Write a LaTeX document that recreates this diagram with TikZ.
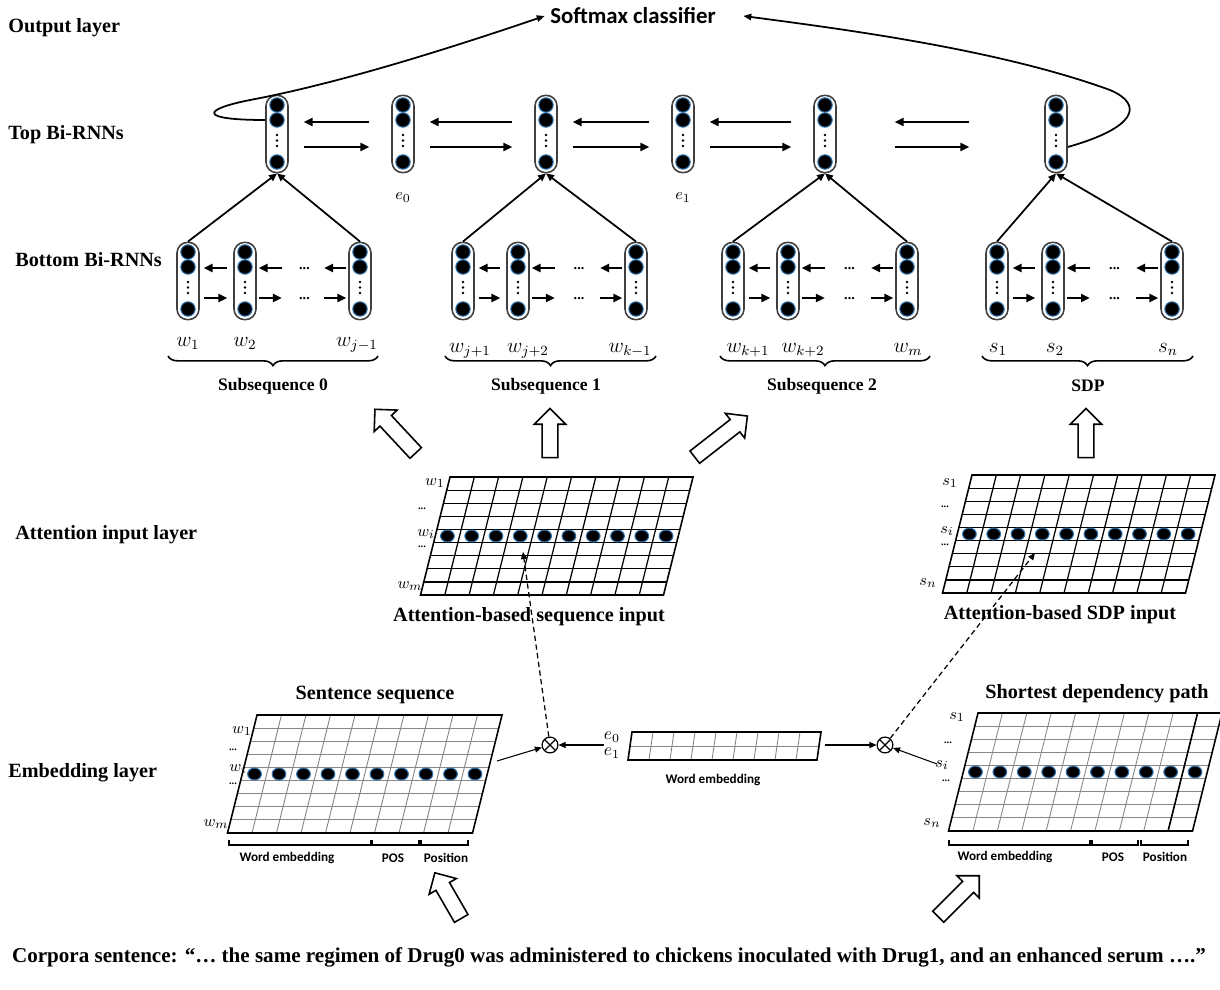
\documentclass[tikz,border=0pt]{standalone}
\usepackage{fontspec}
\setmainfont{Liberation Serif}
\setsansfont{Carlito}
\usepackage{amsmath}
\usetikzlibrary{arrows.meta,shapes.arrows,decorations.pathreplacing,positioning,calc}

\definecolor{rim}{RGB}{45,115,175}
\definecolor{gridgray}{RGB}{135,135,135}

\tikzset{
  layer/.style={anchor=west, inner sep=0pt, font=\bfseries\fontsize{11.5}{13}\selectfont},
  title/.style={inner sep=0pt, font=\bfseries\fontsize{11.5}{13}\selectfont},
  subtitle/.style={inner sep=0pt, font=\bfseries\fontsize{10}{12}\selectfont},
  tag/.style={inner sep=0pt, font=\sffamily\bfseries\fontsize{7.5}{9}\selectfont},
  idx/.style={inner sep=0pt, anchor=base, font=\fontsize{12}{14}\selectfont},
  gridx/.style={inner sep=0pt, font=\fontsize{9.5}{11}\selectfont},
  gap/.style={inner sep=0pt, font=\bfseries\fontsize{8}{9}\selectfont},
  rnncell/.style={draw=black!75, line width=0.9pt, rounded corners=6pt,
    minimum width=12.5pt, minimum height=44pt, inner sep=0pt},
  unit/.style={fill=black, draw=rim, line width=0.6pt},
  flow/.style={line width=1.1pt, -{Triangle[length=5pt,width=4.6pt]}},
  link/.style={line width=1pt, -{Triangle[length=4.5pt,width=4pt]}},
  outflow/.style={line width=1pt, -{Triangle[length=4.5pt,width=3.6pt]}},
  thinflow/.style={line width=0.6pt, -{Triangle[length=4pt,width=3.4pt]}},
  attend/.style={line width=0.7pt, dash pattern=on 3pt off 2pt, -{Triangle[length=4pt,width=3.4pt]}},
  grpbrace/.style={line width=0.9pt, decorate, decoration={brace, mirror, amplitude=5.5pt}},
  partbar/.style={line width=0.6pt},
  attline/.style={line width=0.7pt},
  embline/.style={line width=0.5pt, draw=gridgray},
  hollow/.style={single arrow, draw, line width=0.9pt, fill=white, inner sep=4pt,
    single arrow head extend=4.5pt, single arrow tip angle=90},
  mult/.style={circle, draw, line width=0.7pt, minimum size=9pt, inner sep=0pt,
    path picture={\draw[line width=0.7pt]
      (path picture bounding box.north west) -- (path picture bounding box.south east)
      (path picture bounding box.north east) -- (path picture bounding box.south west);}}
}

\newcommand\rnnunits[1]{%
  \foreach \dy in {-29,-14,28} \filldraw[unit] ($(#1)+(0,\dy)$) circle (4.1pt);
  \foreach \dy in {1,6.5,12} \fill ($(#1)+(0,\dy)$) circle (0.75pt);
}

% #1 top-left corner, #2 width, #3 inner line style
\newcommand\featgrid[3]{%
  \begin{scope}[shift={#1}, xslant=0.25]
    \foreach \c in {1,...,9} \draw[#3] ({\c*#2/10},0) -- ({\c*#2/10},118);
    \foreach \r in {1,...,8} \draw[#3] (0,{\r*118/9}) -- (#2,{\r*118/9});
    \draw[line width=0.9pt] (0,0) -- (#2,0) -- (#2,118) -- (0,118) -- cycle;
  \end{scope}
  \begin{scope}[shift={#1}]
    \foreach \c in {0,...,9} \filldraw[unit] ({(\c+0.5)*#2/10-14.75},{4.5*118/9}) ellipse (3.9pt and 3.4pt);
  \end{scope}}

\begin{document}
\begin{tikzpicture}[x=0.02cm, y=-0.02cm]
\useasboundingbox (0,0) rectangle (1220,990);

\node[layer] (lout) at (8,28) {Output layer};
\node[layer] (ltop) at (8,135) {Top Bi-RNNs};
\node[layer] (lbot) at (15,260) {Bottom Bi-RNNs};
\node[layer] (latt) at (15,535) {Attention input layer};
\node[layer] (lemb) at (8,773) {Embedding layer};

\node[font=\sffamily\bfseries\fontsize{13}{15}\selectfont, inner sep=3pt] (soft) at (633,16) {Softmax classifier};
\coordinate (softR) at ($(soft.east)+(22,0)$);

% top Bi-RNNs
\foreach \n/\x in {0/277,1/403,2/546,3/683,4/825,5/1056} {
  \node[rnncell] (t\n) at (\x,134) {};
  \rnnunits{t\n}
}
\node[gridx, below=11pt of t1] (e0) {$e_0$};
\node[gridx, below=11pt of t3] (e1) {$e_1$};

\foreach \a/\b in {0/1,1/2,2/3,3/4} {
  \draw[flow] ($(t\a.east)+(15,13)$) -- ($(t\b.west)+(-22,13)$);
  \draw[flow] ($(t\b.west)+(-22,-12)$) -- ($(t\a.east)+(15,-12)$);
}
\draw[flow] ($(t4.east)+(58,13)$) -- ($(t5.west)+(-75,13)$);
\draw[flow] ($(t5.west)+(-75,-12)$) -- ($(t4.east)+(58,-12)$);

\draw[outflow] ($(t0.west)+(0,-14)$) .. controls (200,120) and (200,110) .. (250,100)
  .. controls (330,85) and (430,55) .. (soft.west);
\draw[outflow] ($(t5.east)+(0,13)$) .. controls (1135,128) and (1145,105) .. (1110,90)
  .. controls (1000,50) and (850,30) .. (softR);

% bottom Bi-RNNs
\foreach \g/\xa/\xb/\xc/\t in {0/188/245/360/0,1/463/518/636/2,2/733/788/907/4,3/997/1053/1172/5} {
  \node[rnncell] (b\g a) at (\xa,281) {};
  \node[rnncell] (b\g b) at (\xb,281) {};
  \node[rnncell] (b\g c) at (\xc,281) {};
  \rnnunits{b\g a}\rnnunits{b\g b}\rnnunits{b\g c}
  \draw[link] (b\g a.north) -- (t\t.south);
  \draw[link] (b\g c.north) -- (t\t.south);
  \draw[flow] ($(b\g b.west)+(-6,-13)$) -- ($(b\g a.east)+(4,-13)$);
  \draw[flow] ($(b\g a.east)+(4,17)$) -- ($(b\g b.west)+(-6,17)$);
  \draw[flow] ($(b\g b.east)+(25,-13)$) -- ($(b\g b.east)+(2,-13)$);
  \draw[flow] ($(b\g b.east)+(2,17)$) -- ($(b\g b.east)+(25,17)$);
  \draw[flow] ($(b\g c.west)+(-2,-13)$) -- ($(b\g c.west)+(-24,-13)$);
  \draw[flow] ($(b\g c.west)+(-24,17)$) -- ($(b\g c.west)+(-2,17)$);
  \node[gap] (d\g u) at ($(b\g b)!0.5!(b\g c)+(2,-12)$) {...};
  \node[gap] (d\g l) at ($(b\g b)!0.5!(b\g c)+(2,18)$) {...};
}

\foreach \x/\y/\s in {188/346/w_1,245/346/w_2,357/346/w_{j-1},
    470/352/w_{j+1},528/352/w_{j+2},630/352/w_{k-1},
    748/352/w_{k+1},803/352/w_{k+2},908/352/w_m,
    998/352/s_1,1055/352/s_2,1168/352/s_n}
  \node[idx] (lab\x) at (\x,\y) {$\s$};

\foreach \xl/\xr/\xm/\txt in {168/378/273/Subsequence 0,445/656/546/Subsequence 1,
    720/930/822/Subsequence 2,982/1193/1088/SDP} {
  \draw[grpbrace] (\xl,356) -- (\xr,356);
  \node[subtitle] (grp\xm) at (\xm,386) {\txt};
}

% hollow arrows
\node[hollow, minimum height=34pt, rotate=133] (ha0) at (398,434) {};
\node[hollow, minimum height=28pt, rotate=90] (ha1) at (550,437) {};
\node[hollow, minimum height=38pt, rotate=38] (ha2) at (718,439) {};
\node[hollow, minimum height=28pt, rotate=90] (ha3) at (1086,437) {};
\node[hollow, minimum height=30pt, rotate=120] (hb0) at (450,899) {};
\node[hollow, minimum height=33pt, rotate=45] (hb1) at (956,899) {};

% attention input
\featgrid{(450,477)}{243}{attline}
\featgrid{(972,475)}{243}{attline}
\foreach \x/\y/\s in {435/483/w_1,426/534/w_i,410/586/w_m,
    950/483/s_1,947/531/s_i,928/583/s_n,
    242/731/w_1,238/769/w_i,216/824/w_m,
    957/717/s_1,942/765/s_i,932/823/s_n}
  \node[gridx] (g\x\y) at (\x,\y) {$\s$};
\foreach \x/\y in {422/509,422/547,945/507,945/545,233/750,233/784,948/743,946/781}
  \node[gap, font=\bfseries\fontsize{6}{7}\selectfont] (v\x\y) at (\x,\y) {...};
\node[title] (tatt0) at (529,617) {Attention-based sequence input};
\node[title] (tatt1) at (1060,615) {Attention-based SDP input};

% embedding
\featgrid{(257,715)}{245}{embline}
\featgrid{(978,713)}{244}{embline}
\draw[line width=0.9pt] (1197.6,713) -- (1168.1,831);
\node[title] (temb0) at (375,695) {Sentence sequence};
\node[title] (temb1) at (1097,694) {Shortest dependency path};
\foreach \xl/\xr in {229/371,372/419,421/468,949/1090,1092/1138,1141/1188}
  \draw[partbar] (\xl,840) -- (\xl,845) -- (\xr,845) -- (\xr,840);
\foreach \x/\y/\s in {287/858/Word embedding,393/858/POS,446/858/Position,
    1005/857/Word embedding,1113/857/POS,1165/857/Position,713/780/Word embedding}
  \node[tag] (p\x) at (\x,\y) {\s};

\begin{scope}[shift={(632,732)}, xslant=0.143]
  \foreach \c in {1,...,8} \draw[embline] ({\c*21},0) -- ({\c*21},28);
  \draw[embline] (0,14) -- (189,14);
  \draw[line width=0.9pt] (0,0) -- (189,0) -- (189,28) -- (0,28) -- cycle;
\end{scope}
\node[gridx, align=center, font=\fontsize{10}{9}\selectfont] (elab) at (612,745) {$e_0$\\$e_1$};

\node[mult] (mulL) at (550,745) {};
\node[mult] (mulR) at (885,745) {};
\coordinate (sentR) at (497,761);
\coordinate (sdpL) at (937,764);
\coordinate (wembR) at (825,745);
\coordinate (attL) at (523,552);
\coordinate (attR) at (1035,553);
\draw[thinflow] (elab) -- (mulL);
\draw[thinflow] (sentR) -- (mulL);
\draw[thinflow] (wembR) -- (mulR);
\draw[thinflow] (sdpL) -- (mulR);
\draw[attend] (mulL) -- (attL);
\draw[attend] (mulR) -- (attR);

\node[title, font=\bfseries\fontsize{12}{14}\selectfont] (corpus) at (609,957) {Corpora sentence: “… the same regimen of Drug0 was administered to chickens inoculated with Drug1, and an enhanced serum ….”};
\end{tikzpicture}
\end{document}
